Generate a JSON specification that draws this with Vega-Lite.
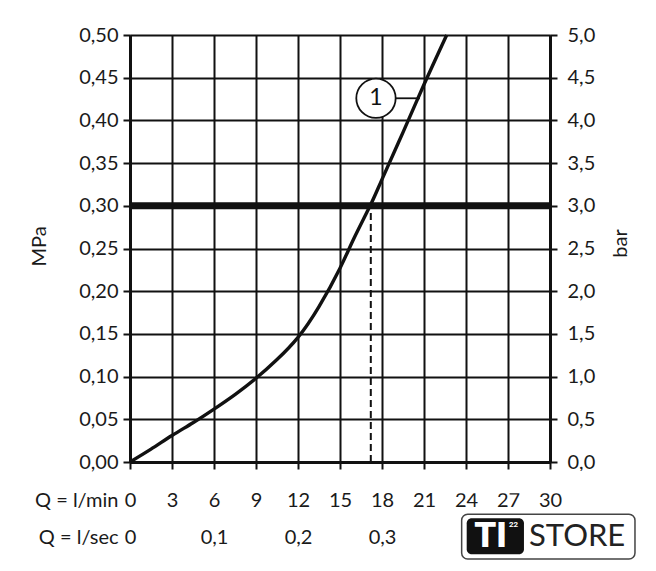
{
  "$schema": "https://vega.github.io/schema/vega-lite/v6.json",
  "width": 420,
  "height": 427,
  "autosize": {"type": "none"},
  "padding": {"left": 130, "top": 35, "right": 106, "bottom": 109},
  "background": "white",
  "config": {
    "view": {"stroke": null},
    "font": "Lato",
    "axis": {
      "gridColor": "#111111",
      "gridWidth": 2,
      "gridOpacity": 1,
      "domainColor": "#111111",
      "domainWidth": 3,
      "tickColor": "#111111",
      "tickWidth": 2,
      "tickSize": 7,
      "labelFont": "Lato",
      "labelFontSize": 20,
      "labelColor": "#1a1a1a",
      "labelFlush": false,
      "labelOverlap": false,
      "labelBound": false,
      "titleFont": "Lato",
      "titleFontSize": 20,
      "titleFontWeight": "normal",
      "titleColor": "#1a1a1a"
    }
  },
  "datasets": {
    "curve": [
      {"q": 0, "p": 0},
      {"q": 1.5, "p": 0.015},
      {"q": 3, "p": 0.031},
      {"q": 4.5, "p": 0.046},
      {"q": 6, "p": 0.062},
      {"q": 7.5, "p": 0.079},
      {"q": 9, "p": 0.098},
      {"q": 10.5, "p": 0.12},
      {"q": 12, "p": 0.146},
      {"q": 13.5, "p": 0.182},
      {"q": 15, "p": 0.227},
      {"q": 16, "p": 0.262},
      {"q": 17.15, "p": 0.3},
      {"q": 18, "p": 0.331},
      {"q": 19.5, "p": 0.386},
      {"q": 21, "p": 0.442},
      {"q": 22.62, "p": 0.5}
    ]
  },
  "layer": [
    {
      "data": {"name": "curve"},
      "mark": {"type": "line", "color": "#111111", "strokeWidth": 3.4, "interpolate": "natural"},
      "encoding": {
        "x": {
          "field": "q", "type": "quantitative",
          "scale": {"domain": [0, 30], "nice": false, "zero": false},
          "axis": {
            "orient": "bottom",
            "values": [0, 3, 6, 9, 12, 15, 18, 21, 24, 27, 30],
            "grid": true,
            "labelExpr": "format(datum.value, 'd')",
            "labelBaseline": "middle",
            "labelPadding": 31,
            "labelDx": 3,
            "title": "Q = l/min",
            "titleX": -12,
            "titleY": 38,
            "titleAlign": "right",
            "titleBaseline": "middle",
            "titleAngle": 0
          }
        },
        "y": {
          "field": "p", "type": "quantitative",
          "scale": {"domain": [0, 0.5], "nice": false, "zero": false},
          "axis": {
            "orient": "left",
            "values": [0, 0.05, 0.1, 0.15, 0.2, 0.25, 0.3, 0.35, 0.4, 0.45, 0.5],
            "grid": true,
            "labelExpr": "replace(format(datum.value, '.2f'), '.', ',')",
            "labelPadding": 5,
            "title": "MPa",
            "titleX": -91,
            "titleY": 211,
            "titleAngle": -90,
            "titleAlign": "center",
            "titleBaseline": "middle"
          }
        }
      }
    },
    {
      "data": {"name": "curve"},
      "mark": {"type": "line", "opacity": 0},
      "encoding": {
        "x": {
          "field": "q", "type": "quantitative",
          "axis": {
            "orient": "bottom",
            "values": [0, 6, 12, 18],
            "grid": false,
            "domain": false,
            "ticks": false,
            "tickSize": 0,
            "labelExpr": "datum.value == 0 ? '0' : replace(format(datum.value / 60, '.1f'), '.', ',')",
            "labelBaseline": "middle",
            "labelPadding": 75,
            "labelDx": 3,
            "title": "Q = l/sec",
            "titleX": -12,
            "titleY": 75,
            "titleAlign": "right",
            "titleBaseline": "middle",
            "titleAngle": 0
          }
        },
        "y": {
          "field": "p", "type": "quantitative",
          "axis": {
            "orient": "right",
            "values": [0, 0.05, 0.1, 0.15, 0.2, 0.25, 0.3, 0.35, 0.4, 0.45, 0.5],
            "grid": false,
            "labelExpr": "replace(format(datum.value * 10, '.1f'), '.', ',')",
            "labelPadding": 10,
            "title": "bar",
            "titleX": 70,
            "titleY": 208,
            "titleAngle": -90,
            "titleAlign": "center",
            "titleBaseline": "middle"
          }
        }
      }
    },
    {
      "data": {"values": [{}]},
      "mark": {"type": "rule", "color": "#111111", "strokeWidth": 7},
      "encoding": {"y": {"datum": 0.3, "type": "quantitative", "axis": null}}
    },
    {
      "data": {"values": [{}]},
      "mark": {"type": "rule", "color": "#111111", "strokeWidth": 2, "strokeDash": [7, 4]},
      "encoding": {
        "x": {"datum": 17.2, "type": "quantitative", "axis": null},
        "y": {"datum": 0, "type": "quantitative", "axis": null},
        "y2": {"datum": 0.297}
      }
    },
    {
      "data": {"values": [{}]},
      "mark": {"type": "rule", "color": "#111111", "strokeWidth": 1.8},
      "encoding": {
        "x": {"datum": 18.95, "type": "quantitative", "axis": null},
        "x2": {"datum": 20.7},
        "y": {"datum": 0.4259, "type": "quantitative", "axis": null}
      }
    },
    {
      "data": {"values": [{}]},
      "mark": {"type": "point", "shape": "circle", "size": 1550, "filled": true, "fill": "white", "stroke": "#111111", "strokeWidth": 1.8, "opacity": 1},
      "encoding": {
        "x": {"datum": 17.57, "type": "quantitative", "axis": null},
        "y": {"datum": 0.4259, "type": "quantitative", "axis": null}
      }
    },
    {
      "data": {"values": [{}]},
      "mark": {"type": "text", "text": "1", "font": "Lato", "fontSize": 23, "color": "#111111", "align": "center", "baseline": "middle"},
      "encoding": {
        "x": {"datum": 17.57, "type": "quantitative", "axis": null},
        "y": {"datum": 0.4259, "type": "quantitative", "axis": null}
      }
    },
    {
      "data": {"values": [{}]},
      "mark": {"type": "rect", "fill": "white"},
      "encoding": {
        "x": {"datum": 23.3, "type": "quantitative", "axis": null},
        "x2": {"datum": 37},
        "y": {"datum": -0.0105, "type": "quantitative", "axis": null},
        "y2": {"datum": -0.0365}
      }
    },
    {
      "data": {"values": [{}]},
      "mark": {"type": "rect", "fill": "white", "stroke": "#444444", "strokeWidth": 1.5, "cornerRadius": 6},
      "encoding": {
        "x": {"datum": 23.69, "type": "quantitative", "axis": null},
        "x2": {"datum": 36.07},
        "y": {"datum": -0.0612, "type": "quantitative", "axis": null},
        "y2": {"datum": -0.1136}
      }
    },
    {
      "data": {"values": [{}]},
      "mark": {"type": "rect", "fill": "#111111", "cornerRadius": 5},
      "encoding": {
        "x": {"datum": 24.05, "type": "quantitative", "axis": null},
        "x2": {"datum": 28.14},
        "y": {"datum": -0.0659, "type": "quantitative", "axis": null},
        "y2": {"datum": -0.1081}
      }
    },
    {
      "data": {"values": [{}]},
      "mark": {"type": "text", "text": "TI", "font": "Roboto", "fontSize": 35, "fontWeight": 900, "color": "white", "align": "center", "baseline": "middle"},
      "encoding": {
        "x": {"datum": 25.75, "type": "quantitative", "axis": null},
        "y": {"datum": -0.0865, "type": "quantitative", "axis": null}
      }
    },
    {
      "data": {"values": [{}]},
      "mark": {"type": "text", "text": "22", "font": "Roboto", "fontSize": 8, "fontWeight": "bold", "color": "white", "align": "center", "baseline": "middle"},
      "encoding": {
        "x": {"datum": 27.4, "type": "quantitative", "axis": null},
        "y": {"datum": -0.0738, "type": "quantitative", "axis": null}
      }
    },
    {
      "data": {"values": [{}]},
      "mark": {"type": "text", "text": "STORE", "font": "Lato", "fontSize": 31, "color": "#222222", "align": "left", "baseline": "middle"},
      "encoding": {
        "x": {"datum": 28.5, "type": "quantitative", "axis": null},
        "y": {"datum": -0.0875, "type": "quantitative", "axis": null}
      }
    }
  ],
  "resolve": {"axis": {"x": "independent", "y": "independent"}}
}
